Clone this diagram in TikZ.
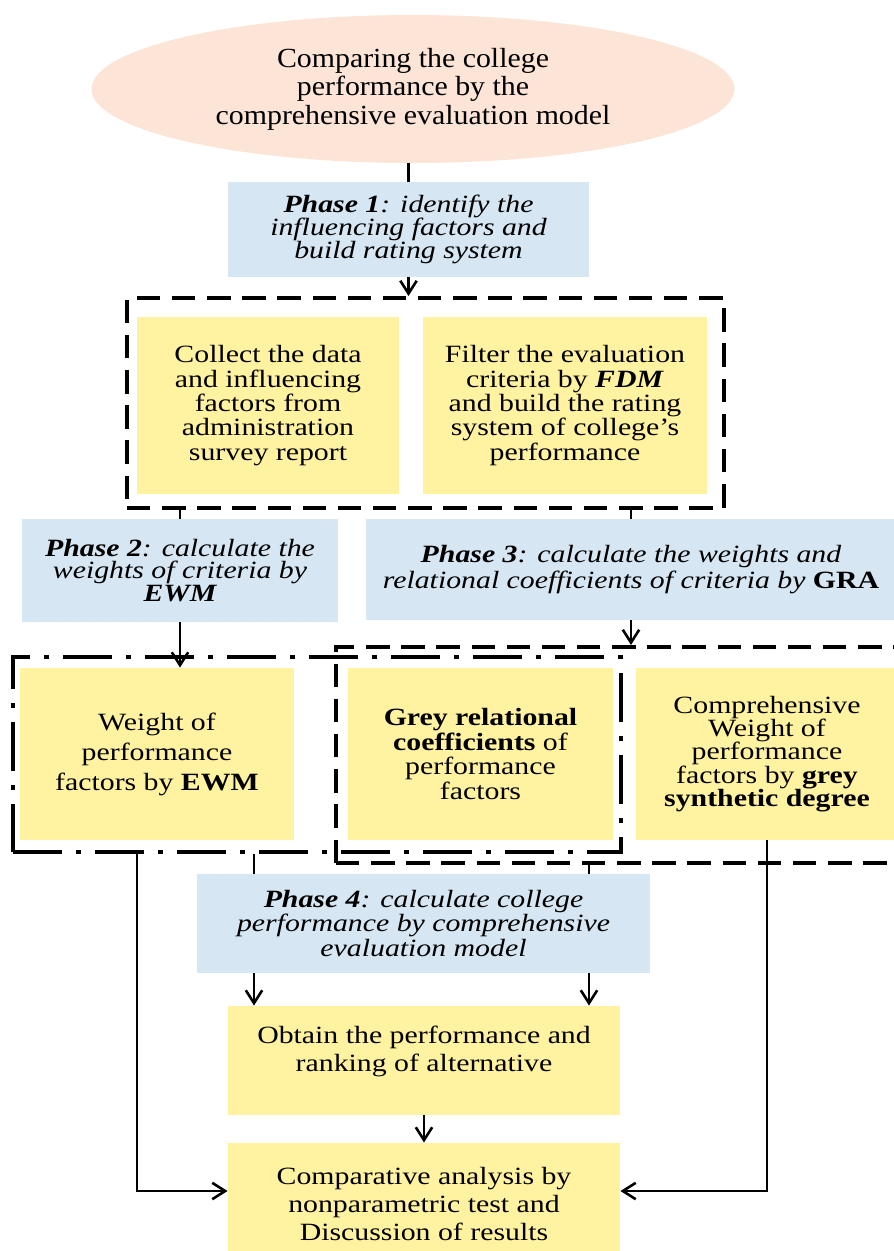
\documentclass[tikz,border=0pt]{standalone}
\usepackage{fontspec}
\setmainfont{Liberation Serif}
\newfontfamily\boxfont{Liberation Serif}[FakeStretch=1.2]
\newfontfamily\ovalfont{Liberation Serif}[FakeStretch=1.08]
\usetikzlibrary{shapes.geometric,arrows.meta}
\definecolor{ovalpeach}{RGB}{252,228,214}
\definecolor{phaseblue}{RGB}{214,230,242}
\definecolor{stepyellow}{RGB}{255,242,160}
\begin{document}
\begin{tikzpicture}[x=0.015cm, y=-0.015cm,
  oval/.style={ellipse, fill=ovalpeach, align=center, inner sep=0pt,
    font=\ovalfont\fontsize{11.8}{12.2}\selectfont},
  phase/.style={fill=phaseblue, align=center, inner sep=0pt,
    font=\boxfont\itshape\fontsize{10.6}{#1}\selectfont},
  phase/.default=9.9,
  stepbox/.style={fill=stepyellow, align=center, inner sep=0pt,
    font=\boxfont\fontsize{10.6}{#1}\selectfont},
  stepbox/.default=10.4,
  grpdash/.style={draw, line width=1.7pt, inner sep=0pt, dash pattern=on 10pt off 5pt},
  grpdashdot/.style={draw, line width=1.7pt, inner sep=0pt, dash pattern=on 21pt off 6pt on 2pt off 6pt},
  link/.style={line width=1.1pt},
  arr/.style={line width=1.1pt, -{Straight Barb[length=5.5pt,width=7pt]}}]

  \def\u{0.015cm}
  \useasboundingbox (0,0) rectangle (894,1251);

  %goal and phase 1
  \node[oval, minimum width=643*\u, minimum height=148*\u] (goal) at (413,89)
     {Comparing the college\\performance by the\\comprehensive evaluation model};
  \node[phase, minimum width=361*\u, minimum height=95*\u] (ph1) at (408.5,229.5)
     {\textbf{Phase 1}: identify the\\influencing factors and\\build rating system};

  %rating system
  \node[grpdash, minimum width=597*\u, minimum height=210*\u] (grpinit) at (425.5,403) {};
  \node[stepbox, minimum width=262*\u, minimum height=177*\u] (collect) at (268,405.5)
     {Collect the data\\and influencing\\factors from\\administration\\survey report};
  \node[stepbox, minimum width=284*\u, minimum height=177*\u] (filter) at (565,405.5)
     {Filter the evaluation\\criteria by \textbf{\textit{FDM}}\\and build the rating\\system of college’s\\performance};

  %phase 2 and 3
  \node[phase=9.6, minimum width=316*\u, minimum height=103*\u] (ph2) at (180,570.5)
     {\textbf{Phase 2}: calculate the\\weights of criteria by\\\textbf{EWM}};
  \node[phase=9.6, minimum width=530*\u, minimum height=101*\u] (ph3) at (631,569.5)
     {\textbf{Phase 3}: calculate the weights and\\relational coefficients of criteria by \textbf{\upshape GRA}};

  %weights
  \node[grpdashdot, minimum width=608*\u, minimum height=195*\u] (grpewm) at (317,754.5) {};
  \node[grpdash, minimum width=569*\u, minimum height=216*\u] (grpgra) at (620.5,755) {};
  \node[stepbox=12.8, minimum width=274*\u, minimum height=172*\u] (weight) at (157,754)
     {Weight of\\performance\\factors by \textbf{EWM}};
  \node[stepbox=10.5, minimum width=265*\u, minimum height=172*\u] (grey) at (480.5,754)
     {\textbf{Grey relational}\\\textbf{coefficients} of\\performance\\factors};
  \node[stepbox=10, minimum width=262*\u, minimum height=172*\u] (comp) at (767,754)
     {Comprehensive\\Weight of\\performance\\factors by \textbf{grey}\\\textbf{synthetic degree}};

  %phase 4 and results
  \node[phase=10.6, minimum width=453*\u, minimum height=99*\u] (ph4) at (423.5,923.5)
     {\textbf{Phase 4}: calculate college\\performance by comprehensive\\evaluation model};
  \node[stepbox=12, minimum width=392*\u, minimum height=109*\u] (obtain) at (424,1060.5)
     {Obtain the performance and\\ranking of alternative\\[-2pt]\mbox{}};
  \node[stepbox=11.8, minimum width=392*\u, minimum height=122*\u] (final) at (424,1204)
     {Comparative analysis by\\nonparametric test and\\Discussion of results};

  \foreach \xx/\name in {254/ldrop, 589/rdrop, 137/lbend, 767/rbend}{
    \coordinate (\name) at (\xx,1191);
  }

  %connectors
  \draw[link] (ph1.north |- goal.south) -- (ph1.north);
  \draw[arr] (ph1.south) -- (ph1.south |- grpinit.north);
  \draw[link] (ph2.north |- grpinit.south) -- (ph2.north);
  \draw[link] (ph3.north |- grpinit.south) -- (ph3.north);
  \draw[arr] (ph2.south) -- (ph2.south |- weight.north);
  \draw[arr] (ph3.south) -- (ph3.south |- grpgra.north);
  \draw[link] (ldrop |- grpewm.south) -- (ldrop |- ph4.north);
  \draw[link] (rdrop |- grpgra.south) -- (rdrop |- ph4.north);
  \draw[arr] (ldrop |- ph4.south) -- (ldrop |- obtain.north);
  \draw[arr] (rdrop |- ph4.south) -- (rdrop |- obtain.north);
  \draw[arr] (obtain.south) -- (final.north);
  \draw[arr] (lbend |- grpewm.south) -- (lbend) -- (lbend -| final.west);
  \draw[arr] (comp.south) -- (rbend) -- (rbend -| final.east);

\end{tikzpicture}
\end{document}
